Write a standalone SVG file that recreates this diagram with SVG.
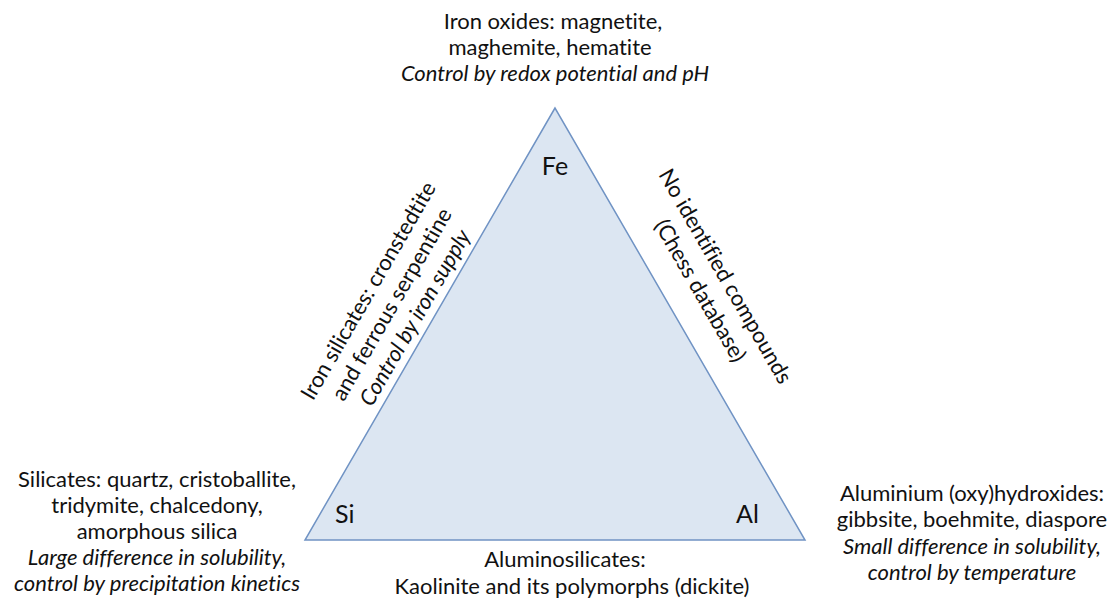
<svg xmlns="http://www.w3.org/2000/svg" width="1110" height="605" viewBox="0 0 1110 605">
<style>
.t{font-family:Lato,"Open Sans","Liberation Sans",sans-serif;font-size:22px;fill:#111;text-anchor:middle;font-variant-ligatures:none}
.i{font-style:italic}
.v{font-family:Lato,"Open Sans","Liberation Sans",sans-serif;font-size:25px;fill:#111}
</style>
<rect width="1110" height="605" fill="#fff"/>
<g id="triangle">
<polygon points="555,108 305,540 805,540" fill="#dce6f2" stroke="#7093c4" stroke-width="1.5" stroke-linejoin="miter"/>
</g>
<g id="vertex-fe"><text class="v" x="555" y="175" text-anchor="middle">Fe</text></g>
<g id="vertex-si"><text class="v" x="335" y="523">Si</text></g>
<g id="vertex-al"><text class="v" x="736" y="523">Al</text></g>
<g id="iron-oxides">
<text class="t" x="553" y="29">Iron oxides: magnetite,</text>
<text class="t" x="550" y="55">maghemite, hematite</text>
<text class="t i" x="555" y="81">Control by redox potential and pH</text>
</g>
<g id="iron-silicates" transform="translate(393,305) rotate(-60)">
<text class="t" x="0" y="-21">Iron silicates: cronstedtite</text>
<text class="t" x="0" y="6">and ferrous serpentine</text>
<text class="t i" x="0" y="33">Control by iron supply</text>
</g>
<g id="no-compounds" transform="translate(712,284) rotate(60)">
<text class="t" x="0" y="-8">No identified compounds</text>
<text class="t" x="0" y="21">(Chess database)</text>
</g>
<g id="silicates">
<text class="t" x="157" y="487">Silicates: quartz, cristoballite,</text>
<text class="t" x="157" y="513">tridymite, chalcedony,</text>
<text class="t" x="157" y="539">amorphous silica</text>
<text class="t i" x="157" y="565">Large difference in solubility,</text>
<text class="t i" x="157" y="591">control by precipitation kinetics</text>
</g>
<g id="aluminium">
<text class="t" x="972" y="501">Aluminium (oxy)hydroxides:</text>
<text class="t" x="972" y="527">gibbsite, boehmite, diaspore</text>
<text class="t i" x="972" y="554">Small difference in solubility,</text>
<text class="t i" x="972" y="580">control by temperature</text>
</g>
<g id="aluminosilicates">
<text class="t" x="565" y="567">Aluminosilicates:</text>
<text class="t" x="572" y="594">Kaolinite and its polymorphs (dickite)</text>
</g>
</svg>
